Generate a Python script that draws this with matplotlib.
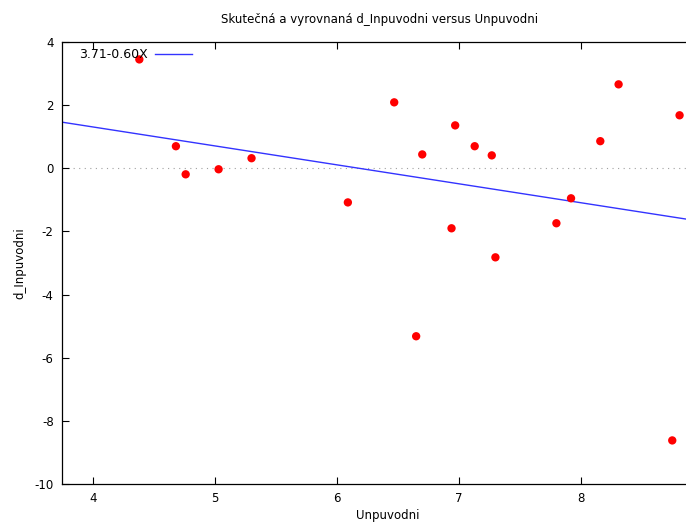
import numpy as np
import matplotlib.pyplot as plt

# Unpuvodni vs d_Inpuvodni observations
unpuvodni = [4.38, 4.68, 4.76, 5.03, 5.30, 6.09, 6.47, 6.70, 6.97, 6.94,
             7.13, 7.27, 7.30, 6.65, 7.80, 7.92, 8.16, 8.31, 8.81, 8.75]
d_inpuvodni = [3.45, 0.70, -0.19, -0.03, 0.32, -1.08, 2.09, 0.44, 1.36, -1.90,
               0.70, 0.41, -2.82, -5.32, -1.74, -0.95, 0.86, 2.66, 1.68, -8.62]

# fitted line
b0 = 3.71
b1 = -0.60

plt.rcParams['font.family'] = 'DejaVu Sans'
plt.rcParams['font.size'] = 8
plt.rcParams['axes.unicode_minus'] = False

fig = plt.figure(figsize=(6.86, 5.23), dpi=100)
ax = fig.add_axes([0.0904, 0.0746, 0.95, 0.845])

xmin, xmax = 3.746, 9.09
ax.set_xlim(xmin, xmax)
ax.set_ylim(-10, 4)

ax.axhline(0, color='#a0a0a0', lw=0.8, ls=(0, (1, 4)), zorder=1)

xs = np.array([xmin, xmax])
ax.plot(xs, b0 + b1 * xs, color='#3333ff', lw=1.0, zorder=2,
        label='%.2f%.2fX' % (b0, b1))
ax.scatter(unpuvodni, d_inpuvodni, s=36, color='#ff0000', edgecolors='none', zorder=3)

leg = ax.legend(loc='upper left', bbox_to_anchor=(0.026, 0.986), frameon=False,
                markerfirst=False, handlelength=3.0, handletextpad=0.55,
                borderaxespad=0, borderpad=0, fontsize=9)

ax.set_xticks([4, 5, 6, 7, 8])
ax.set_yticks([-10, -8, -6, -4, -2, 0, 2, 4])
ax.tick_params(direction='in', length=5, width=0.8, top=True, labelsize=8.5, pad=6)
ax.spines['right'].set_visible(False)
for s in ['left', 'bottom', 'top']:
    ax.spines[s].set_linewidth(0.9)

ax.set_xlabel('Unpuvodni', fontsize=8.5, labelpad=3)
ax.set_ylabel('d_Inpuvodni', fontsize=8.5, labelpad=6)
fig.text(0.554, 0.962, 'Skutečná a vyrovnaná d_Inpuvodni versus Unpuvodni',
         ha='center', va='center', fontsize=8.5)

fig.savefig('out.png', dpi=100)
